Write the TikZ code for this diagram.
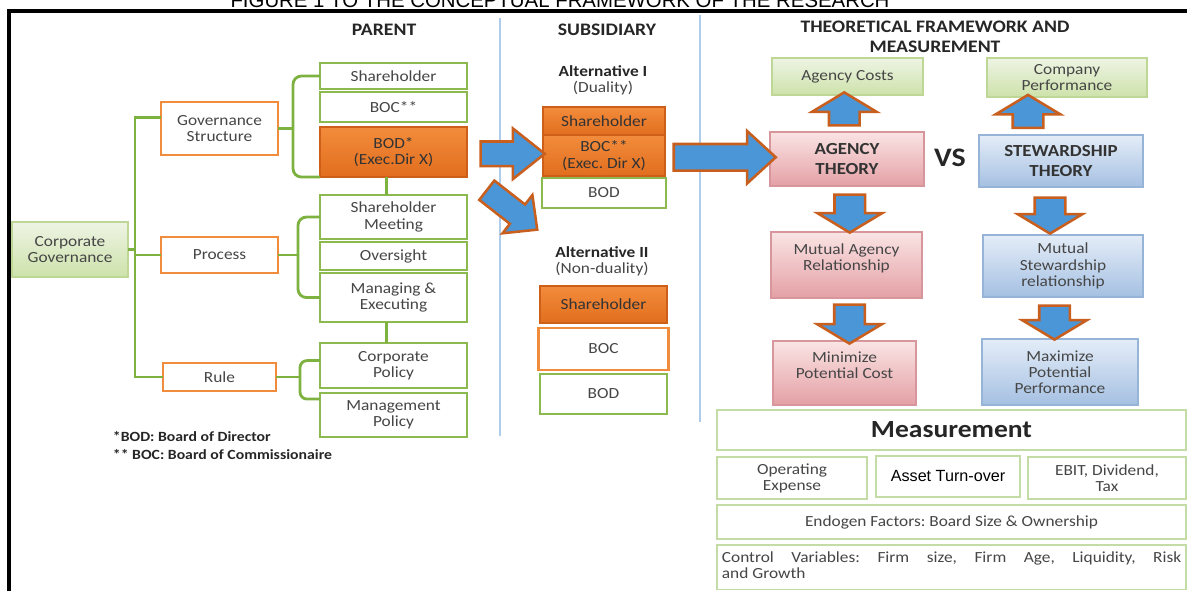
\documentclass[tikz,border=0pt]{standalone}
\usepackage{fontspec}
\setmainfont{Carlito}[FakeStretch=1.12]
\newfontfamily\arialfont{Liberation Sans}
\frenchspacing
\usetikzlibrary{
  arrows.meta,
  shapes.arrows,
  positioning,
  calc
}
\definecolor{gline}{RGB}{125,178,65}
\definecolor{gbox}{RGB}{140,185,80}
\definecolor{oline}{RGB}{240,140,60}
\definecolor{odark}{RGB}{205,95,25}
\definecolor{otop}{RGB}{242,140,60}
\definecolor{obot}{RGB}{225,110,30}
\definecolor{lgtop}{RGB}{238,244,228}
\definecolor{lgbot}{RGB}{205,226,170}
\definecolor{lgline}{RGB}{190,215,150}
\definecolor{pktop}{RGB}{250,228,228}
\definecolor{pkbot}{RGB}{228,160,165}
\definecolor{pkline}{RGB}{215,150,155}
\definecolor{bltop}{RGB}{228,237,248}
\definecolor{blbot}{RGB}{165,192,226}
\definecolor{blline}{RGB}{150,180,215}
\definecolor{ablue}{RGB}{75,150,215}
\definecolor{aedge}{RGB}{200,95,30}
\definecolor{sepc}{RGB}{175,205,235}
\definecolor{mline}{RGB}{195,220,165}
\definecolor{txt}{RGB}{70,70,70}

\newcommand{\boxfont}{\fontsize{11}{11.5}\selectfont}
\newcommand{\headfont}{\fontsize{12.5}{14}\selectfont\bfseries}
\newcommand{\theofont}{\fontsize{12}{14}\selectfont\bfseries}
\newcommand{\vsfont}{\fontsize{19}{19}\selectfont\bfseries}
\newcommand{\measfont}{\fontsize{17.5}{17.5}\selectfont\bfseries}
\newcommand{\notefont}{\fontsize{10}{11}\selectfont\bfseries}

\tikzset{
  greenbox/.style={
    rectangle, draw=gbox, line width=1.8pt, fill=white,
    align=center, text=txt, font=\boxfont,
    inner sep=1pt, outer sep=0pt
  },
  orangebox/.style={greenbox, draw=oline},
  filledbox/.style={
    greenbox, draw=odark, line width=1.2pt,
    top color=otop, bottom color=obot, text=black!80
  },
  leafbox/.style={greenbox, draw=lgline, line width=1pt, top color=lgtop, bottom color=lgbot},
  agencybox/.style={greenbox, draw=pkline, line width=1pt, top color=pktop, bottom color=pkbot},
  stewardbox/.style={greenbox, draw=blline, line width=1pt, top color=bltop, bottom color=blbot},
  measbox/.style={greenbox, draw=mline, line width=1.2pt},
  wh/.style 2 args={minimum width=#1cm, minimum height=#2cm},
  link/.style={draw=gline, line width=2pt},
  sepline/.style={draw=sepc, line width=1pt},
  heading/.style={font=\headfont, text=black!85, align=center},
  fatarrow/.style={
    single arrow, draw=aedge, line width=1.8pt, fill=ablue,
    inner xsep=0pt, outer sep=0pt, single arrow head indent=0pt
  },
  smallarrow/.style={
    fatarrow, inner ysep=0.35cm, minimum width=1.55cm,
    single arrow head extend=0.425cm, single arrow tip angle=118
  },
  uparrow/.style={smallarrow, rotate=90},
  downarrow/.style={smallarrow, rotate=-90}
}

\begin{document}
\begin{tikzpicture}[x=0.025cm, y=-0.025cm]
\useasboundingbox (0,0) rectangle (1187,591);
\clip (0,0) rectangle (1187,591);

% caption, cut off at the top
\node[anchor=base, font=\arialfont\fontsize{14.5}{14.5}\selectfont] (fig) at (560,8)
  {FIGURE 1 TO THE CONCEPTUAL FRAMEWORK OF THE RESEARCH};

% frame and column separators
\draw[line width=2.8pt] (9,591) -- (9,11) -- (1187,11);
\draw[sepline] (500,18) -- (500,436);
\draw[sepline] (700,15) -- (700,422);

% headings
\node[heading] (hpar) at (384,30) {PARENT};
\node[heading] (hsub) at (607,30) {SUBSIDIARY};
\node[heading] (hthe) at (935,37) {THEORETICAL FRAMEWORK AND\\MEASUREMENT};

% Parent: root and branches
\node[leafbox, wh={2.9}{1.375}] (cg) at (70,249.5) {Corporate\\Governance};
\node[orangebox, wh={2.925}{1.325}] (gs) at (219.5,128.5) {Governance\\Structure};
\node[orangebox, wh={2.925}{0.9}] (pr) at (219.5,255) {Process};
\node[orangebox, wh={2.825}{0.7}] (rl) at (219.5,377) {Rule};

% Parent: leaves
\node[greenbox, wh={3.675}{0.65}] (sh) at (393.5,76) {Shareholder};
\node[greenbox, wh={3.675}{0.75}, below=0.075cm of sh] (boc) {BOC**};
\node[filledbox, wh={3.675}{1.25}, below=0.125cm of boc] (bod) {BOD*\\(Exec.Dir X)};
\node[greenbox, wh={3.675}{1.1}, below=0.45cm of bod] (sm) {Shareholder\\Meeting};
\node[greenbox, wh={3.675}{0.7}, below=0.075cm of sm] (ov) {Oversight};
\node[greenbox, wh={3.675}{1.225}, below=0.075cm of ov] (me) {Managing \&\\Executing};
\node[greenbox, wh={3.675}{1.125}, below=0.525cm of me] (cp) {Corporate\\Policy};
\node[greenbox, wh={3.675}{1.1}, below=0.125cm of cp] (mp) {Management\\Policy};

% trunk
\coordinate (trunk) at (135,0);
\draw[link] (cg.east) -- (cg.east -| trunk);
\draw[link] ([yshift=8pt]gs.west) -| (trunk |- rl.west) -- (rl.west);
\draw[link] (trunk |- pr.west) -- (pr.west);

% brackets
\coordinate (brg) at (293,0);
\draw[link] (gs.east) -- (gs.east -| brg);
\draw[link, rounded corners=6pt] (sh.west) -| (brg |- bod.south west) -- (bod.south west);
\coordinate (brp) at (298,0);
\draw[link] (pr.east) -- (pr.east -| brp);
\draw[link, rounded corners=6pt] (sm.west) -| (brp |- me.west) -- (me.west);
\coordinate (brr) at (300,0);
\coordinate (rtop) at ($(cp.west)+(0,-5)$);
\coordinate (rbot) at ($(mp.north west)+(0,6)$);
\draw[link] (rl.east) -- (rl.east -| brr);
\draw[link, rounded corners=5pt] (rtop) -| (brr |- rbot) -- (rbot);
\draw[link] ([xshift=-5pt]bod.south) -- ([xshift=-5pt]bod.south |- sm.north);
\draw[link] ([xshift=-5pt]me.south) -- ([xshift=-5pt]me.south |- cp.north);

% footnotes
\node[anchor=west, font=\notefont, text=black!85] (n1) at (108,437) {*BOD: Board of Director};
\node[anchor=west, font=\notefont, text=black!85] (n2) at (108,455) {** BOC: Board of Commissionaire};

% Subsidiary: alternative I
\node[font=\boxfont\bfseries, text=black!85] (alt1) at (603,71) {Alternative I};
\node[font=\boxfont, text=txt] (dual) at (603,88) {(Duality)};
\node[filledbox, wh={3.05}{0.7}] (ash) at (604,121) {Shareholder};
\node[filledbox, wh={3.05}{1.025}, below=0pt of ash] (aboc) {BOC**\\(Exec. Dir X)};
\node[greenbox, wh={3.1}{0.75}, below=0.05cm of aboc] (abod) {BOD};

% Subsidiary: alternative II
\node[font=\boxfont\bfseries, text=black!85] (alt2) at (602,252) {Alternative II};
\node[font=\boxfont, text=txt] (ndual) at (602,269) {(Non-duality)};
\node[filledbox, wh={3.175}{0.925}] (bsh) at (603.5,304.5) {Shareholder};
\node[orangebox, wh={3.25}{1.05}, below=0.125cm of bsh] (bboc) {BOC};
\node[greenbox, wh={3.175}{1.0}, below=0.1cm of bboc] (bbod) {BOD};

% Theories
\node[leafbox, wh={3.775}{0.925}] (ac) at (847.5,76.5) {Agency Costs};
\node[leafbox, wh={4.0}{0.975}] (cpf) at (1067,77.5) {Company\\Performance};
\node[agencybox, wh={3.85}{1.35}, font=\theofont, text=black!80] (at) at (847,159) {AGENCY\\THEORY};
\node[font=\vsfont, text=black!85] (vs) at (950,158) {VS};
\node[stewardbox, wh={4.1}{1.3}, font=\theofont, text=black!80] (st) at (1061,161) {STEWARDSHIP\\THEORY};
\node[agencybox, wh={3.775}{1.65}] (mar) at (846.5,265) {Mutual Agency\\Relationship\\~};
\node[stewardbox, wh={4.0}{1.55}] (msr) at (1063,266) {Mutual\\Stewardship\\relationship};
\node[agencybox, wh={3.575}{1.6}] (mnc) at (844.5,373) {Minimize\\Potential Cost\\~};
\node[stewardbox, wh={3.9}{1.65}] (mxp) at (1060,372) {Maximize\\Potential\\Performance};

% big arrows
\node[fatarrow, inner ysep=0.275cm, minimum height=1.6cm, minimum width=1.2cm,
      single arrow head extend=0.325cm, single arrow tip angle=77]
  (arr1) at ($(bod.east)!0.5!(aboc.west)$) {};
\node[fatarrow, inner ysep=0.275cm, minimum height=1.6cm, minimum width=1.15cm,
      single arrow head extend=0.3cm, single arrow tip angle=88, rotate=-38]
  (arr2) at ($(bod.south east)+(40,29)$) {};
\node[fatarrow, inner ysep=0.3cm, minimum height=2.55cm, minimum width=1.25cm,
      single arrow head extend=0.325cm, single arrow tip angle=85]
  (arr3) at ($(aboc.east)!0.5!(at.west)$) {};

% small arrows
\node[uparrow, minimum height=0.825cm] (up1) at ($(at.north)!0.5!(ac.south)+(-3,0)$) {};
\node[uparrow, minimum height=0.825cm] (up2) at ($(st.north)!0.5!(cpf.south)+(-36,0)$) {};
\node[downarrow, minimum height=0.95cm] (dn1) at ($(at.south)!0.5!(mar.north)+(3,0)$) {};
\node[downarrow, minimum height=0.9cm] (dn2) at ($(st.south)!0.5!(msr.north)+(-12,0)$) {};
\node[downarrow, minimum height=0.975cm] (dn3) at ($(mar.south)!0.5!(mnc.north)+(4,0)$) {};
\node[downarrow, minimum height=0.85cm] (dn4) at ($(msr.south)!0.5!(mxp.north)+(-7,0)$) {};

% Measurement
\node[measbox, wh={11.725}{1.0}, font=\measfont, text=black!85] (meas) at (951.5,430) {Measurement};
\node[measbox, wh={3.75}{1.05}, anchor=north west] (opx) at (717,457) {Operating\\Expense};
\node[measbox, wh={3.6}{1.025}, font=\arialfont\fontsize{11.5}{12}\selectfont, text=black] (atv) at (948,476.5) {Asset Turn-over};
\node[measbox, wh={3.95}{1.05}, anchor=north east] (ebit) at (1186,457) {EBIT, Dividend,\\Tax};
\node[measbox, wh={11.725}{0.85}] (endo) at (951.5,522) {Endogen Factors: Board Size \& Ownership};
\node[measbox, anchor=north west, align=justify, text width=11.48cm,
      inner xsep=3.5pt, inner ysep=5pt, text depth=14pt] (ctrl) at (717,545)
  {Control Variables: Firm size, Firm Age, Liquidity, Risk\linebreak and Growth};

\end{tikzpicture}
\end{document}
